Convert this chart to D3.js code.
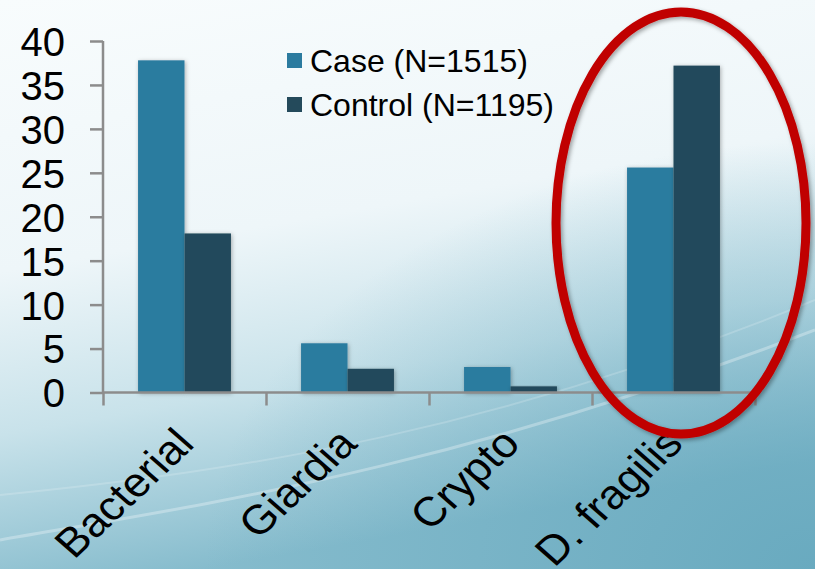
<!DOCTYPE html>
<html><head><meta charset="utf-8">
<script src="https://cdn.jsdelivr.net/npm/d3@7"></script>
<style>html,body{margin:0;padding:0;overflow:hidden;background:#fff}svg{display:block}</style>
</head><body>
<svg id="chart" width="815" height="569"></svg>
<script>
const categories = ["Bacterial", "Giardia", "Crypto", "D. fragilis"];
const seriesNames = ["Case (N=1515)", "Control (N=1195)"];
const caseValues = [37.8, 5.6, 2.9, 25.6];
const controlValues = [18.1, 2.7, 0.7, 37.2];
const yTicks = [0, 5, 10, 15, 20, 25, 30, 35, 40];
const colors = ["#2b7b9f", "#244a5b"];

const svg = d3.select("#chart");
const W = 815, H = 569;
const defs = svg.append("defs");

// background gradient
const bg = defs.append("linearGradient").attr("id", "bg").attr("x1", "0").attr("y1", "0").attr("x2", "0.25").attr("y2", "1");
bg.append("stop").attr("offset", "0").attr("stop-color", "#f8fcfd");
bg.append("stop").attr("offset", "0.45").attr("stop-color", "#eef6f9");
bg.append("stop").attr("offset", "0.72").attr("stop-color", "#c8e2ea");
bg.append("stop").attr("offset", "1").attr("stop-color", "#86bccd");
svg.append("rect").attr("width", W).attr("height", H).attr("fill", "url(#bg)");
const bg2 = defs.append("radialGradient").attr("id", "bg2").attr("cx", "1").attr("cy", "1").attr("r", "0.75");
bg2.append("stop").attr("offset", "0").attr("stop-color", "#64a7bd").attr("stop-opacity", 0.85);
bg2.append("stop").attr("offset", "1").attr("stop-color", "#64a7bd").attr("stop-opacity", 0);
svg.append("rect").attr("width", W).attr("height", H).attr("fill", "url(#bg2)");
// light streaks
svg.append("path").attr("d", "M0,540 C200,505 450,470 815,330").attr("fill", "none").attr("stroke", "#ffffff").attr("stroke-opacity", 0.3).attr("stroke-width", 3);
svg.append("path").attr("d", "M0,495 C250,470 500,430 815,300").attr("fill", "none").attr("stroke", "#ffffff").attr("stroke-opacity", 0.18).attr("stroke-width", 2);

// shadow filter
const f = defs.append("filter").attr("id", "sh").attr("x", "-20%").attr("y", "-20%").attr("width", "140%").attr("height", "140%");
f.append("feDropShadow").attr("dx", 1).attr("dy", 1).attr("stdDeviation", 2).attr("flood-color", "#000").attr("flood-opacity", 0.3);

const x0 = 103, x1 = 755, yTop = 41, yBot = 392.5;
const x = d3.scaleBand().domain(categories).range([x0, x1]).paddingInner(0.43).paddingOuter(0.215);
const xs = d3.scaleBand().domain([0, 1]).range([0, x.bandwidth()]);
const y = d3.scaleLinear().domain([0, 40]).range([yBot, yTop]);

const seriesVals = [caseValues, controlValues];
const g = svg.append("g");
categories.forEach((c, i) => {
  seriesVals.forEach((vals, s) => {
    g.append("rect")
      .attr("x", x(c) + xs(s))
      .attr("y", y(vals[i]))
      .attr("width", xs.bandwidth())
      .attr("height", y(0) - y(vals[i]))
      .attr("fill", colors[s])
      .attr("filter", "url(#sh)");
  });
});

// y axis
const yAxis = svg.append("g").attr("transform", `translate(${x0},0)`)
  .call(d3.axisLeft(y).tickValues(yTicks).tickSize(13).tickPadding(25));
yAxis.select(".domain").attr("stroke", "#8c8c8c").attr("stroke-width", 2.5).attr("d", `M0,${yTop}V${yBot}`);
yAxis.selectAll(".tick line").attr("stroke", "#8c8c8c").attr("stroke-width", 2.5);
yAxis.selectAll(".tick text").attr("font-family", "Liberation Sans, Arial, sans-serif").attr("font-size", 40).attr("fill", "#000").attr("dy", "0.36em");

// x axis
const xb = d3.scaleLinear().domain([0, categories.length]).range([x0, x1]);
const xAxis = svg.append("g").attr("transform", `translate(0,${yBot})`)
  .call(d3.axisBottom(xb).tickValues(d3.range(categories.length + 1)).tickSize(13).tickFormat(""));
xAxis.select(".domain").attr("stroke", "#8c8c8c").attr("stroke-width", 2.5).attr("d", `M${x0},0H${x1}`);
xAxis.selectAll(".tick line").attr("stroke", "#8c8c8c").attr("stroke-width", 2.5);

svg.append("g").selectAll("text").data(categories).join("text")
  .attr("transform", d => `translate(${x(d) + x.bandwidth() / 2 - 12},${425}) scale(1.1,1) rotate(-46)`)
  .attr("text-anchor", "end")
  .attr("dy", "0.72em")
  .attr("font-family", "Liberation Sans, Arial, sans-serif")
  .attr("font-size", 41)
  .attr("fill", "#000")
  .text(d => d);

// legend
const leg = svg.append("g");
seriesNames.forEach((n, i) => {
  const cy = 60 + i * 44;
  leg.append("rect").attr("x", 287).attr("y", cy - 7).attr("width", 15).attr("height", 15).attr("fill", colors[i]);
  leg.append("text").attr("x", 310).attr("y", cy).attr("dy", "0.36em")
    .attr("font-family", "Liberation Sans, Arial, sans-serif").attr("font-size", 32).attr("fill", "#000").text(n);
});

// red ellipse highlight
const f2 = defs.append("filter").attr("id", "sh2").attr("x", "-10%").attr("y", "-10%").attr("width", "120%").attr("height", "120%");
f2.append("feDropShadow").attr("dx", 2).attr("dy", 2).attr("stdDeviation", 2).attr("flood-color", "#000").attr("flood-opacity", 0.35);
svg.append("ellipse").attr("cx", 681).attr("cy", 223).attr("rx", 125).attr("ry", 211)
  .attr("fill", "none").attr("stroke", "#c00000").attr("stroke-width", 9).attr("filter", "url(#sh2)");
</script>
</body></html>
